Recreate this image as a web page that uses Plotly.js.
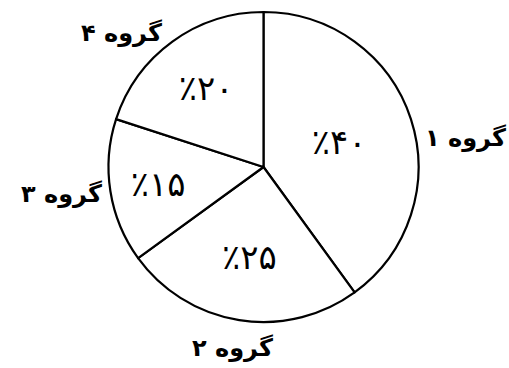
<!DOCTYPE html>
<html>
<head>
<meta charset="utf-8">
<script src="https://cdn.plot.ly/plotly-3.0.1.min.js"></script>
<style>html,body{margin:0;padding:0;background:#fff;}#chart{width:509px;height:368px;}</style>
</head>
<body>
<div id="chart"></div>
<script>
const groupLabels = ['گروه ۱', 'گروه ۲', 'گروه ۳', 'گروه ۴'];
const groupValues = [40, 25, 15, 20];
const percentLabels = ['٪۴۰', '٪۲۵', '٪۱۵', '٪۲۰'];
const labelPositions = [
  {x: 465, y: 138},
  {x: 232, y: 348},
  {x: 61, y: 194},
  {x: 121, y: 33}
];

const W = 509, H = 368;
const cx = 263.5, cy = 167, R = 155;

const trace = {
  type: 'pie',
  labels: groupLabels,
  values: groupValues,
  text: percentLabels,
  textinfo: 'text',
  textposition: 'inside',
  insidetextorientation: 'horizontal',
  sort: false,
  direction: 'clockwise',
  rotation: 0,
  hoverinfo: 'none',
  marker: {colors: ['#ffffff', '#ffffff', '#ffffff', '#ffffff'], line: {color: '#000000', width: 2.2}},
  insidetextfont: {family: 'DejaVu Sans', size: 34, color: '#000000'},
  domain: {x: [(cx - R) / W, (cx + R) / W], y: [(H - cy - R) / H, (H - cy + R) / H]}
};

const annotations = groupLabels.map((t, i) => ({
  text: '<b>' + t + '</b>',
  x: labelPositions[i].x / W,
  y: 1 - labelPositions[i].y / H,
  xref: 'paper', yref: 'paper',
  showarrow: false,
  xanchor: 'center', yanchor: 'middle',
  font: {family: 'DejaVu Sans', size: 24, color: '#000000'}
}));

Plotly.newPlot('chart', [trace], {
  width: W, height: H,
  margin: {l: 0, r: 0, t: 0, b: 0},
  paper_bgcolor: '#ffffff',
  showlegend: false,
  annotations: annotations
}, {staticPlot: true});
</script>
</body>
</html>
